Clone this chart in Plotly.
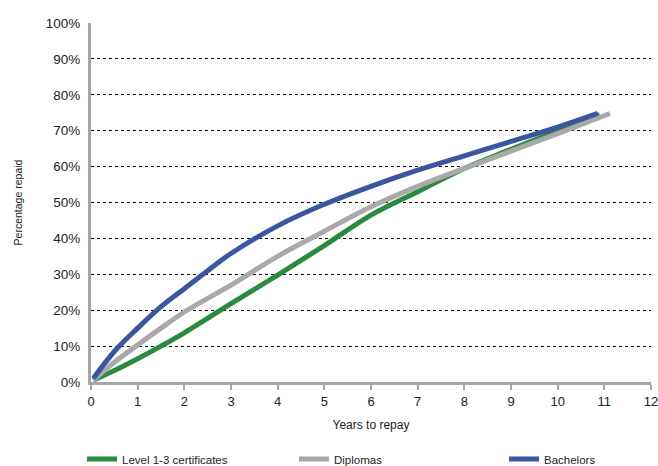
import plotly.graph_objects as go

years_cert = [0.05, 0.5, 1, 1.5, 2, 3, 4, 5, 6, 7, 8, 9, 10, 10.9]
level_1_3 = [0.5, 3.2, 6.5, 10, 13.7, 21.8, 29.8, 38, 46.5, 53, 59.5, 64.8, 70, 74.5]

years_dip = [0.05, 0.5, 1, 1.5, 2, 3, 4, 5, 6, 7, 8, 9, 10, 11.12]
diplomas = [0.5, 5.5, 10.3, 15, 19.5, 27, 35, 42, 48.8, 54.5, 59.5, 64.3, 69.2, 74.8]

years_bach = [0.05, 0.5, 1, 1.5, 2, 2.5, 3, 4, 5, 6, 7, 8, 9, 10, 10.86]
bachelors = [1, 8.5, 15, 21, 26, 31, 35.8, 43.5, 49.5, 54.5, 59, 63, 67, 71, 74.8]

x_ticks = list(range(0, 13))
y_ticks = list(range(0, 101, 10))
y_tick_labels = [f"{v}%" for v in y_ticks]

FONT = "Liberation Sans, Arial, sans-serif"

fig = go.Figure()
fig.add_trace(go.Scatter(x=years_cert, y=level_1_3, mode="lines", name="Level 1-3 certificates",
                         legend="legend",
                         line=dict(color="#2b8a3e", width=5, shape="spline")))
fig.add_trace(go.Scatter(x=years_dip, y=diplomas, mode="lines", name="Diplomas",
                         legend="legend2",
                         line=dict(color="#a9a9a9", width=5, shape="spline")))
fig.add_trace(go.Scatter(x=years_bach, y=bachelors, mode="lines", name="Bachelors",
                         legend="legend3",
                         line=dict(color="#3b559f", width=5, shape="spline")))

leg_common = dict(orientation="h", xanchor="left", y=-0.2145, yanchor="middle",
                  font=dict(size=11.5, color="#222"), itemwidth=30,
                  bgcolor="rgba(0,0,0,0)")

fig.update_layout(
    width=658, height=466,
    margin=dict(l=91, r=7, t=23, b=84, autoexpand=False),
    paper_bgcolor="white", plot_bgcolor="white",
    font=dict(family=FONT, size=13.5, color="#222"),
    showlegend=True,
    legend=dict(x=-0.016, **leg_common),
    legend2=dict(x=0.3625, **leg_common),
    legend3=dict(x=0.7375, **leg_common),
    xaxis=dict(range=[0, 12], tickvals=x_ticks, showgrid=False, zeroline=False,
               showline=True, linecolor="#a6a6a6", linewidth=3,
               ticks="outside", ticklen=5, tickcolor="#a6a6a6", tickwidth=2,
               automargin=False, ticklabeloverflow="allow", tickfont=dict(size=13),
               title=dict(text="Years to repay", standoff=14, font=dict(size=12))),
    yaxis=dict(range=[0, 100], tickvals=y_ticks, ticktext=y_tick_labels,
               showgrid=True, gridcolor="black", griddash="3px,3px", gridwidth=1,
               zeroline=False, showline=True, linecolor="#a6a6a6", linewidth=3,
               ticks="", ticklabelstandoff=5, automargin=False,
               title=dict(text="Percentage repaid", standoff=22, font=dict(size=10.5))),
)

fig.write_html("out.html", config={"displayModeBar": False},
               post_script="document.body.style.margin='0';document.body.style.overflow='hidden';")
